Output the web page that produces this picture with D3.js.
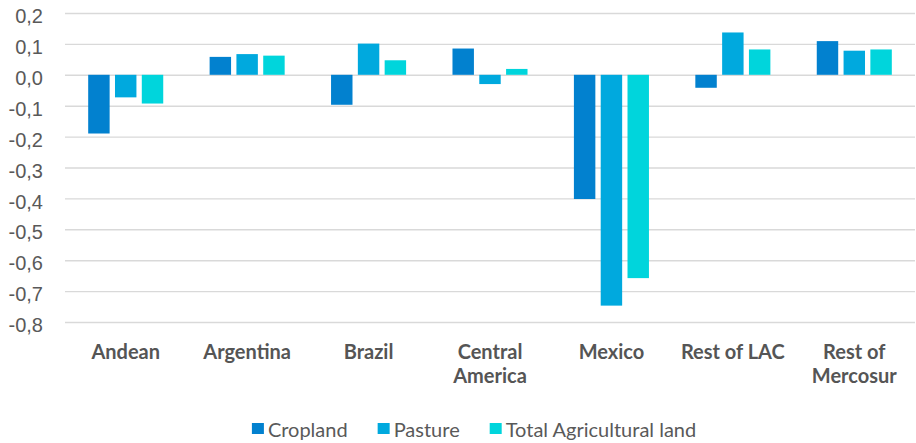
<!DOCTYPE html>
<html>
<head>
<meta charset="utf-8">
<script src="https://cdn.jsdelivr.net/npm/d3@7"></script>
<style>
  body { margin: 0; background: #fff; }
  svg { display: block; font-family: Lato, 'Open Sans', sans-serif; }
</style>
</head>
<body>
<svg id="chart"></svg>
<script>
// data
const categories = ['Andean', 'Argentina', 'Brazil', 'Central America', 'Mexico', 'Rest of LAC', 'Rest of Mercosur'];
const seriesNames = ['Cropland', 'Pasture', 'Total Agricultural land'];
const cropland = [-0.190, 0.058, -0.097, 0.085, -0.402, -0.042, 0.109];
const pasture = [-0.073, 0.067, 0.101, -0.030, -0.747, 0.137, 0.078];
const totalAgri = [-0.093, 0.062, 0.047, 0.019, -0.658, 0.082, 0.082];
const yTicks = [0.2, 0.1, 0.0, -0.1, -0.2, -0.3, -0.4, -0.5, -0.6, -0.7, -0.8];

const seriesValues = [cropland, pasture, totalAgri];
const colors = ['#0281CF', '#00A9DE', '#00D5DC'];

const width = 916, height = 443;
const margin = { top: 13, right: 1, bottom: 121, left: 65 };

const svg = d3.select('#chart')
  .attr('width', width)
  .attr('height', height);

// comma decimal, plain hyphen minus
const locale = d3.formatLocale({ decimal: ',', thousands: '.', grouping: [3], currency: ['', ''], minus: '-' });
const fmt = locale.format('.1f');

// Scales
const x0 = d3.scaleBand()
  .domain(categories)
  .range([margin.left, width - margin.right])
  .paddingInner(0.382)
  .paddingOuter(0.191);

const x1 = d3.scaleBand()
  .domain(seriesNames)
  .range([0, x0.bandwidth()])
  .paddingInner(0.2);

const y = d3.scaleLinear()
  .domain([-0.8, 0.2])
  .range([height - margin.bottom, margin.top]);

const color = d3.scaleOrdinal().domain(seriesNames).range(colors);

// Grid lines
svg.append('g')
  .attr('class', 'grid')
  .attr('transform', `translate(${margin.left},0)`)
  .call(d3.axisRight(y)
    .tickValues(yTicks)
    .tickSize(width - margin.left - margin.right)
    .tickFormat(''))
  .call(g => g.select('.domain').remove())
  .call(g => g.selectAll('line').attr('stroke', '#D9D9D9').attr('stroke-width', 1.4));

// Y axis labels
svg.append('g')
  .attr('class', 'axis y-axis')
  .attr('transform', `translate(${margin.left},0)`)
  .call(d3.axisLeft(y)
    .tickValues(yTicks)
    .tickSize(0)
    .tickPadding(22)
    .tickFormat(fmt))
  .call(g => g.select('.domain').remove())
  .call(g => g.selectAll('text')
    .attr('dy', '0.48em')
    .style('font-size', '20px')
    .style('fill', '#595959'));

// Bars
const rows = categories.map((c, i) => ({
  name: c,
  values: seriesNames.map((s, j) => ({ series: s, value: seriesValues[j][i] }))
}));

const groups = svg.selectAll('.group')
  .data(rows)
  .enter()
  .append('g')
  .attr('class', 'group')
  .attr('transform', d => `translate(${x0(d.name)},0)`);

groups.selectAll('rect')
  .data(d => d.values)
  .enter()
  .append('rect')
  .attr('x', d => x1(d.series))
  .attr('width', x1.bandwidth())
  .attr('y', d => y(Math.max(0, d.value)))
  .attr('height', d => Math.abs(y(d.value) - y(0)))
  .attr('fill', d => color(d.series));

// Category labels (wrapped)
const catLabels = svg.append('g')
  .attr('class', 'axis x-axis')
  .selectAll('text')
  .data(categories)
  .enter()
  .append('text')
  .attr('x', d => x0(d) + x0.bandwidth() / 2)
  .attr('y', 359)
  .attr('text-anchor', 'middle')
  .style('font-size', '20px')
  .style('font-weight', 'bold')
  .style('fill', '#555555');

catLabels.each(function(d) {
  const text = d3.select(this);
  const words = d.split(' ');
  const maxW = 112;
  let line = [];
  let tspan = text.append('tspan').attr('x', text.attr('x')).attr('dy', 0);
  words.forEach(w => {
    line.push(w);
    tspan.text(line.join(' '));
    if (tspan.node().getComputedTextLength() > maxW && line.length > 1) {
      line.pop();
      tspan.text(line.join(' '));
      line = [w];
      tspan = text.append('tspan').attr('x', text.attr('x')).attr('dy', 24).text(w);
    }
  });
});

// Legend
const legend = svg.append('g').attr('class', 'legend');
const legendGap = 30;
let lx = 0;
seriesNames.forEach(s => {
  const item = legend.append('g').attr('transform', `translate(${lx},0)`);
  item.append('rect')
    .attr('x', 0)
    .attr('y', 423)
    .attr('width', 12)
    .attr('height', 11)
    .attr('fill', color(s));
  const t = item.append('text')
    .attr('x', 16)
    .attr('y', 437)
    .text(s)
    .style('font-size', '20px')
    .style('fill', '#595959');
  lx += 16 + t.node().getComputedTextLength() + legendGap;
});
const legendW = lx - legendGap;
legend.attr('transform', `translate(${(474 - legendW / 2).toFixed(1)},0)`);
</script>
</body>
</html>
